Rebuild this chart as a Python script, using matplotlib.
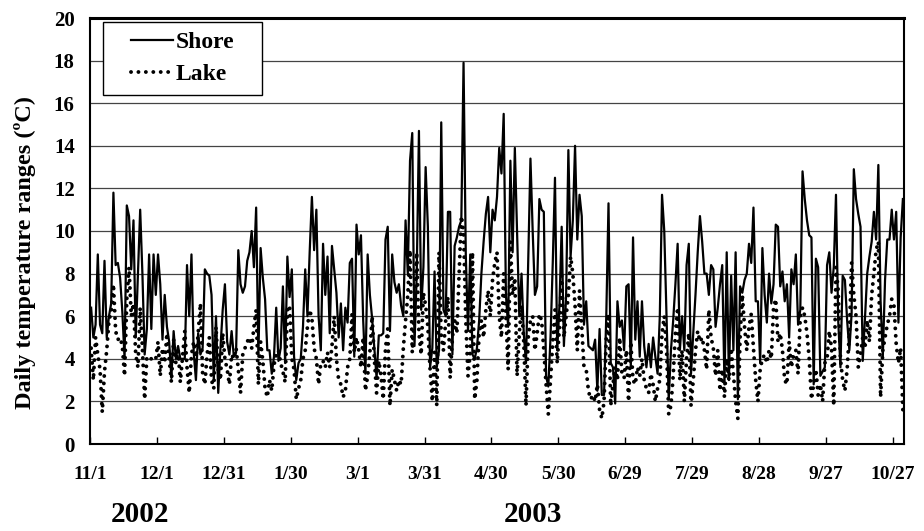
"""Daily temperature ranges at the shore and on the lake, Nov 2002 - Oct 2003."""

import matplotlib
matplotlib.use('Agg')
import matplotlib.pyplot as plt
from matplotlib.patches import Rectangle
import numpy as np

plt.rcParams['font.family'] = ['Liberation Serif', 'DejaVu Serif']
plt.rcParams['font.weight'] = 'bold'

# daily values, starting 11/1/2002
shore = [
    6.4, 5.0, 5.6, 8.9, 5.6, 5.2, 8.6, 5.0, 6.0, 6.6,
    11.8, 8.4, 8.5, 7.8, 6.2, 4.0, 11.2, 10.7, 8.2, 10.5,
    5.0, 8.0, 11.0, 8.0, 4.2, 5.4, 8.9, 5.4, 8.9, 7.0,
    8.9, 7.5, 4.9, 7.0, 5.5, 4.8, 3.1, 5.3, 4.0, 4.6,
    4.0, 4.0, 4.0, 8.4, 6.0, 8.9, 4.3, 3.0, 5.2, 4.2,
    4.5, 8.2, 8.0, 7.9, 7.0, 3.0, 6.0, 2.4, 4.5, 6.3,
    7.5, 4.8, 4.2, 5.3, 4.1, 4.3, 9.1, 7.5, 7.1, 7.4,
    8.6, 9.0, 10.0, 8.3, 11.1, 4.1, 9.2, 7.8, 6.8, 4.4,
    4.4, 3.3, 4.1, 6.4, 3.9, 4.5, 7.4, 3.8, 8.8, 6.9,
    8.2, 4.1, 3.0, 3.8, 4.0, 5.5, 8.2, 6.0, 9.0, 11.6,
    9.1, 11.0, 6.0, 4.4, 9.4, 7.0, 8.8, 5.2, 9.3, 8.2,
    7.1, 5.0, 6.6, 4.4, 6.4, 5.7, 8.5, 8.7, 4.1, 10.3,
    8.9, 9.8, 5.8, 3.3, 8.9, 7.0, 5.9, 4.5, 3.1, 5.1,
    5.1, 5.2, 9.6, 10.2, 5.3, 8.9, 7.6, 7.1, 7.5, 6.5,
    6.0, 10.5, 8.0, 13.3, 14.6, 4.6, 8.0, 14.7, 6.3, 8.3,
    13.0, 10.2, 3.6, 4.5, 8.1, 3.6, 4.4, 15.1, 6.3, 6.0,
    10.9, 10.9, 4.2, 9.3, 9.7, 10.2, 10.5, 17.9, 8.9, 5.3,
    8.9, 4.2, 4.0, 4.5, 5.8, 8.0, 9.5, 10.8, 11.6, 9.0,
    11.0, 10.5, 11.6, 13.9, 12.7, 15.5, 7.0, 5.5, 13.3, 9.0,
    13.9, 9.9, 6.0, 8.0, 5.2, 3.8, 8.5, 13.4, 10.0, 7.0,
    7.4, 11.5, 11.0, 10.9, 3.2, 2.7, 5.0, 8.5, 12.5, 4.4,
    6.5, 10.2, 4.6, 7.0, 13.8, 8.8, 10.5, 14.0, 9.6, 11.7,
    10.7, 5.6, 6.7, 4.6, 4.5, 4.4, 4.9, 2.5, 5.4, 2.3,
    2.3, 6.0, 11.3, 3.8, 3.6, 1.9, 6.7, 5.5, 5.8, 4.4,
    7.4, 7.5, 3.6, 9.7, 4.9, 6.7, 4.1, 6.7, 4.6, 3.6,
    4.7, 3.6, 5.0, 4.1, 3.3, 6.0, 11.7, 10.0, 6.0, 2.1,
    4.4, 5.8, 7.5, 9.4, 4.4, 6.0, 4.4, 8.4, 9.4, 3.3,
    5.2, 7.0, 9.0, 10.7, 9.5, 8.0, 8.0, 7.0, 8.4, 8.2,
    5.5, 6.4, 7.5, 8.4, 2.8, 9.0, 3.0, 7.9, 4.4, 9.0,
    2.1, 7.4, 7.1, 7.7, 8.0, 9.4, 8.5, 11.1, 6.7, 6.7,
    3.8, 9.2, 7.0, 5.7, 8.0, 6.6, 7.5, 10.3, 10.2, 7.4,
    8.1, 6.7, 7.5, 5.0, 8.2, 7.5, 8.9, 5.6, 6.3, 12.8,
    11.5, 10.5, 9.8, 9.7, 2.8, 8.7, 8.3, 3.2, 3.4, 3.6,
    8.4, 9.0, 7.1, 8.3, 11.7, 5.8, 3.6, 7.9, 7.7, 5.8,
    4.4, 6.1, 12.9, 11.5, 10.8, 10.2, 3.9, 5.9, 8.0, 8.8,
    9.5, 10.9, 9.6, 13.1, 6.7, 4.1, 7.7, 9.6, 9.6, 11.0,
    9.6, 10.9, 5.7, 9.7, 11.5,
]

lake = [
    4.5, 3.0, 5.0, 4.2, 3.5, 1.5, 3.4, 4.4, 5.8, 6.2,
    7.5, 5.3, 4.9, 5.0, 4.6, 3.2, 6.8, 8.3, 6.0, 6.6,
    4.2, 3.6, 6.4, 4.5, 2.1, 4.1, 4.0, 4.0, 4.1, 4.0,
    4.8, 3.2, 4.5, 3.8, 5.2, 4.0, 2.9, 4.9, 3.8, 4.4,
    2.9, 4.1, 5.3, 3.6, 2.4, 4.2, 4.8, 3.9, 5.2, 6.6,
    3.3, 2.8, 4.2, 5.0, 3.0, 2.6, 5.5, 3.5, 3.0, 5.2,
    4.0, 3.5, 2.8, 4.2, 4.0, 4.5, 3.5, 2.4, 4.2, 4.5,
    4.8, 5.0, 4.5, 5.5, 6.3, 2.8, 4.8, 3.9, 2.6, 2.2,
    3.0, 2.5, 3.7, 4.2, 4.4, 3.8, 3.4, 2.9, 6.3, 6.5,
    4.0, 3.5, 2.1, 2.6, 3.0, 4.0, 4.4, 5.5, 6.3, 5.9,
    4.5, 4.0, 2.8, 3.8, 3.9, 3.6, 4.3, 3.6, 4.6, 6.0,
    4.0, 3.0, 2.8, 2.2, 2.5, 3.6, 4.0, 6.1, 4.3, 5.0,
    4.4, 3.6, 5.0, 2.5, 3.2, 4.3, 6.0, 4.0, 2.4, 3.9,
    3.2, 2.1, 4.5, 5.4, 1.8, 3.5, 3.0, 2.5, 3.0, 2.8,
    4.5, 5.8, 7.0, 9.1, 4.3, 6.0, 9.0, 5.2, 4.2, 7.1,
    6.5, 5.5, 3.5, 2.0, 4.3, 1.8, 9.0, 5.0, 4.4, 5.8,
    6.9, 3.1, 5.0, 5.8, 5.2, 8.0, 10.7, 10.0, 5.8, 3.2,
    4.3, 9.0, 2.1, 3.0, 5.2, 5.8, 5.0, 6.3, 7.2, 6.0,
    7.7, 8.5, 9.0, 6.0, 5.0, 8.0, 6.0, 3.5, 9.5, 7.0,
    7.8, 3.2, 5.2, 6.5, 4.8, 1.8, 5.0, 5.8, 6.0, 4.4,
    5.2, 6.1, 5.8, 4.4, 2.8, 1.4, 3.0, 4.8, 6.3, 3.8,
    5.5, 7.9, 5.0, 6.0, 7.0, 8.8, 8.0, 6.5, 4.4, 7.2,
    5.5, 3.6, 3.5, 2.5, 2.1, 2.3, 2.0, 2.8, 1.6, 1.2,
    2.0, 5.0, 6.1, 1.8, 2.8, 3.6, 3.0, 5.0, 3.3, 3.1,
    4.4, 2.0, 4.8, 3.0, 2.8, 3.6, 3.2, 4.0, 3.0, 2.6,
    2.4, 3.3, 2.8, 2.0, 2.6, 3.0, 5.2, 6.0, 4.5, 1.4,
    1.8, 3.2, 5.2, 6.4, 3.0, 4.4, 2.0, 4.0, 5.2, 1.8,
    3.0, 4.4, 5.3, 4.8, 5.0, 4.4, 3.5, 6.3, 5.0, 4.5,
    3.2, 4.4, 2.5, 3.5, 2.2, 4.0, 3.0, 4.5, 3.3, 2.0,
    1.2, 5.0, 7.0, 5.5, 4.4, 5.5, 6.1, 4.5, 3.0, 2.0,
    3.5, 4.0, 4.2, 3.8, 4.4, 4.0, 6.4, 6.8, 4.8, 5.2,
    4.4, 3.0, 2.8, 4.8, 3.6, 4.2, 4.4, 3.3, 6.0, 6.4,
    6.0, 5.2, 4.0, 2.1, 2.8, 3.5, 2.3, 2.8, 2.0, 3.8,
    4.0, 5.3, 4.5, 1.8, 8.3, 7.2, 4.0, 3.0, 2.5, 3.5,
    5.2, 8.5, 7.0, 6.0, 3.6, 4.2, 5.0, 4.5, 5.8, 4.8,
    7.0, 8.0, 9.1, 9.5, 2.2, 4.4, 5.0, 5.6, 6.0, 6.8,
    6.5, 4.7, 3.8, 4.5, 1.6,
]

tick_days = [0, 30, 60, 90, 120, 150, 180, 210, 240, 270, 300, 330, 360]
tick_labels = ['11/1', '12/1', '12/31', '1/30', '3/1', '3/31', '4/30',
               '5/30', '6/29', '7/29', '8/28', '9/27', '10/27']
years = ['2002', '2003']

days = np.arange(len(shore))

fig = plt.figure(figsize=(9.24, 5.31), dpi=100)
ax = fig.add_axes([90 / 924, 1 - 444 / 531, 814 / 924, 426 / 531])

ax.plot(days, shore, color='black', lw=1.6, label='Shore', zorder=3)
ax.plot(days, lake, color='black', lw=2.8, linestyle=(0, (0.01, 1.9)),
        dash_capstyle='round', label='Lake', zorder=2)

ax.set_xlim(-0.5, len(shore) - 0.5)
ax.set_ylim(0, 20)
ax.set_yticks(np.arange(0, 21, 2))
ax.set_xticks(np.array(tick_days) - 0.5)
ax.set_xticklabels(tick_labels)
ax.yaxis.grid(True, color='#444444', lw=0.9)
ax.set_axisbelow(True)

ax.tick_params(axis='x', direction='in', length=5, width=1, pad=16, labelsize=14)
ax.tick_params(axis='y', length=0, pad=11, labelsize=15)
for lab in ax.get_xticklabels() + ax.get_yticklabels():
    lab.set_fontweight('bold')

for side in ['left', 'right', 'bottom']:
    ax.spines[side].set_linewidth(1.5)
ax.spines['top'].set_linewidth(2.2)

ax.set_ylabel('Daily temperature ranges (ºC)', fontsize=17.5, fontweight='bold')
ax.yaxis.set_label_coords(-0.066, 0.45)

# legend box drawn by hand so its padding matches
box = Rectangle((0.016, 0.819), 0.195, 0.171, transform=ax.transAxes,
                facecolor='white', edgecolor='black', lw=1.0, zorder=4)
ax.add_patch(box)
leg = ax.legend(loc='center', bbox_to_anchor=(0.1136, 0.905), frameon=False,
                fontsize=17, handlelength=1.8, handletextpad=0.1,
                labelspacing=0.45, borderpad=0, borderaxespad=0)
leg.set_zorder(5)
for t in leg.get_texts():
    t.set_fontweight('bold')

fig.text(140 / 924, 1 - 515 / 531, years[0], ha='center', va='center',
         fontsize=21, fontweight='bold')
fig.text(533 / 924, 1 - 515 / 531, years[1], ha='center', va='center',
         fontsize=21, fontweight='bold')

fig.savefig('out.png', dpi=100)
plt.close(fig)
